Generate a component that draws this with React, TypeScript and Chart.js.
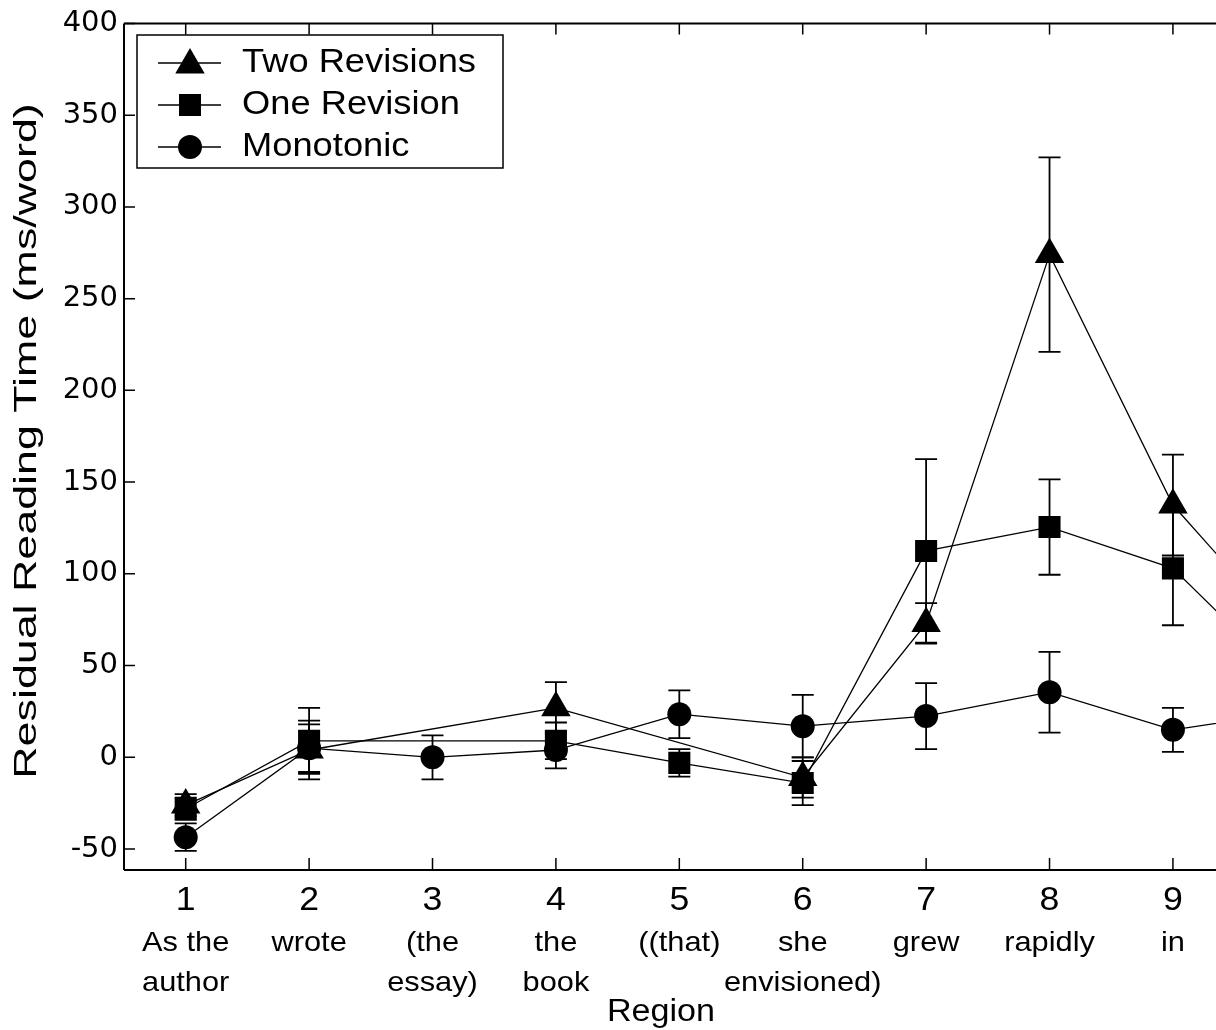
import React, { useEffect, useRef } from 'react';
import { Chart, registerables } from 'chart.js';

Chart.register(...registerables);

// ---------- data ----------
const xTickValues = [1, 2, 3, 4, 5, 6, 7, 8, 9];
const xNumberLabels = ['1', '2', '3', '4', '5', '6', '7', '8', '9'];
const xWordLabels = [
  ['As the', 'author'],
  ['wrote'],
  ['(the', 'essay)'],
  ['the', 'book'],
  ['((that)'],
  ['she', 'envisioned)'],
  ['grew'],
  ['rapidly'],
  ['in'],
];
const yTickValues = [-50, 0, 50, 100, 150, 200, 250, 300, 350, 400];

const twoRevX = [1, 2, 4, 6, 7, 8, 9, 10];
const twoRevY = [-26, 4, 27, -11, 73, 274, 137.5, 62];
const twoRevErr = [6, 16, 14, 11, 11, 53, 27.5, 20];

const oneRevX = [1, 2, 4, 5, 6, 7, 8, 9, 10];
const oneRevY = [-28, 9, 9, -3, -14, 112.5, 125.5, 103, 37];
const oneRevErr = [6, 18, 10, 7.5, 12, 50, 26, 31, 20];

const monoX = [1, 2, 3, 4, 5, 6, 7, 8, 9, 10];
const monoY = [-43.5, 5, 0, 4, 23.5, 17, 22.5, 35.5, 15, 25];
const monoErr = [7.5, 13, 12, 10, 13, 17, 18, 22, 12, 10];

const seriesNames = ['Two Revisions', 'One Revision', 'Monotonic'];
const xAxisTitle = 'Region';
const yAxisTitle = 'Residual Reading Time (ms/word)';

const errorSets = [twoRevErr, oneRevErr, monoErr];

function pts(xs: number[], ys: number[]) {
  return xs.map((x, i) => ({ x, y: ys[i] }));
}

function stretchText(
  ctx: CanvasRenderingContext2D,
  text: string,
  x: number,
  y: number,
  font: string,
  sx: number,
  align: CanvasTextAlign
) {
  ctx.save();
  ctx.translate(x, y);
  ctx.scale(sx, 1);
  ctx.font = font;
  ctx.fillStyle = '#000';
  ctx.textAlign = align;
  ctx.textBaseline = 'middle';
  ctx.fillText(text, 0, 0);
  ctx.restore();
}

function drawMarker(ctx: CanvasRenderingContext2D, style: string, x: number, y: number) {
  ctx.save();
  ctx.fillStyle = '#000';
  ctx.beginPath();
  if (style === 'triangle') {
    const r = 17;
    for (let k = 0; k < 3; k++) {
      const a = (k * 2 * Math.PI) / 3;
      const px = x + Math.sin(a) * r;
      const py = y - Math.cos(a) * r;
      if (k === 0) ctx.moveTo(px, py);
      else ctx.lineTo(px, py);
    }
    ctx.closePath();
  } else if (style === 'rect') {
    ctx.rect(x - 11, y - 11, 22, 22);
  } else {
    ctx.arc(x, y, 12, 0, Math.PI * 2);
  }
  ctx.fill();
  ctx.restore();
}

const errorBarPlugin = {
  id: 'errorBars',
  beforeDatasetsDraw(chart: any) {
    const ctx = chart.ctx as CanvasRenderingContext2D;
    const xs = chart.scales.x;
    const ys = chart.scales.y;
    const area = chart.chartArea;
    ctx.save();
    ctx.beginPath();
    ctx.rect(area.left, area.top, area.right - area.left, area.bottom - area.top);
    ctx.clip();
    ctx.strokeStyle = '#000';
    ctx.lineWidth = 1.8;
    chart.data.datasets.forEach((ds: any, di: number) => {
      const errs = errorSets[di];
      ds.data.forEach((p: any, i: number) => {
        const px = xs.getPixelForValue(p.x);
        const top = ys.getPixelForValue(p.y + errs[i]);
        const bot = ys.getPixelForValue(p.y - errs[i]);
        ctx.beginPath();
        ctx.moveTo(px, top);
        ctx.lineTo(px, bot);
        ctx.moveTo(px - 11, top);
        ctx.lineTo(px + 11, top);
        ctx.moveTo(px - 11, bot);
        ctx.lineTo(px + 11, bot);
        ctx.stroke();
      });
    });
    ctx.restore();
  },
};

const frameAndLabelsPlugin = {
  id: 'frameAndLabels',
  afterDraw(chart: any) {
    const ctx = chart.ctx as CanvasRenderingContext2D;
    const xs = chart.scales.x;
    const ys = chart.scales.y;
    const a = chart.chartArea;
    ctx.save();
    ctx.strokeStyle = '#000';
    ctx.lineWidth = 2;
    // frame (left, top, bottom)
    ctx.beginPath();
    ctx.moveTo(a.left, a.top);
    ctx.lineTo(a.left, a.bottom);
    ctx.moveTo(a.left, a.top);
    ctx.lineTo(a.right, a.top);
    ctx.moveTo(a.left, a.bottom);
    ctx.lineTo(a.right, a.bottom);
    ctx.stroke();
    // inward ticks
    ctx.lineWidth = 1.5;
    ctx.beginPath();
    yTickValues.forEach((v) => {
      const py = ys.getPixelForValue(v);
      ctx.moveTo(a.left, py);
      ctx.lineTo(a.left + 11, py);
    });
    xTickValues.forEach((v) => {
      const px = xs.getPixelForValue(v);
      ctx.moveTo(px, a.bottom);
      ctx.lineTo(px, a.bottom - 12);
      ctx.moveTo(px, a.top);
      ctx.lineTo(px, a.top + 11);
    });
    ctx.stroke();
    ctx.restore();

    // x tick labels
    xTickValues.forEach((v, i) => {
      const px = xs.getPixelForValue(v);
      stretchText(ctx, xNumberLabels[i], px, a.bottom + 31, '33px "Liberation Sans"', 1.08, 'center');
      xWordLabels[i].forEach((w, j) => {
        stretchText(ctx, w, px, a.bottom + 73 + j * 40, '28px "Liberation Sans"', 1.1, 'center');
      });
    });
    // x title
    stretchText(ctx, xAxisTitle, 661, a.bottom + 142, '31px "Liberation Sans"', 1.1, 'center');
    // y title (rotated)
    ctx.save();
    ctx.translate(27, 441);
    ctx.rotate(-Math.PI / 2);
    stretchText(ctx, yAxisTitle, 0, 0, '31px "Liberation Sans"', 1.445, 'center');
    ctx.restore();

    // legend
    const lx = 137, ly = 35, lw = 366, lh = 133;
    ctx.save();
    ctx.fillStyle = '#fff';
    ctx.fillRect(lx, ly, lw, lh);
    ctx.strokeStyle = '#000';
    ctx.lineWidth = 1.5;
    ctx.strokeRect(lx, ly, lw, lh);
    const styles = ['triangle', 'rect', 'circle'];
    seriesNames.forEach((name, i) => {
      const ry = 63 + i * 42;
      ctx.beginPath();
      ctx.lineWidth = 1.3;
      ctx.moveTo(158, ry);
      ctx.lineTo(221, ry);
      ctx.stroke();
      drawMarker(ctx, styles[i], 190, styles[i] === 'triangle' ? ry + 2 : ry);
      stretchText(ctx, name, 242, ry, '33px "Liberation Sans"', 1.1, 'left');
    });
    ctx.restore();
  },
};

export default function App() {
  const canvasRef = useRef<HTMLCanvasElement | null>(null);

  useEffect(() => {
    const canvas = canvasRef.current;
    if (!canvas) return;
    const common = {
      borderColor: '#000',
      borderWidth: 1.3,
      backgroundColor: '#000',
      pointBackgroundColor: '#000',
      pointBorderColor: '#000',
      pointBorderWidth: 0,
      showLine: true,
      tension: 0,
      fill: false,
    };
    const chart = new Chart(canvas, {
      type: 'line',
      data: {
        datasets: [
          { ...common, label: seriesNames[0], data: pts(twoRevX, twoRevY), pointStyle: 'triangle', pointRadius: 17 },
          { ...common, label: seriesNames[1], data: pts(oneRevX, oneRevY), pointStyle: 'rect', pointRadius: 15.6 },
          { ...common, label: seriesNames[2], data: pts(monoX, monoY), pointStyle: 'circle', pointRadius: 12 },
        ],
      },
      options: {
        animation: false,
        responsive: false,
        devicePixelRatio: 1,
        layout: { autoPadding: false, padding: { left: 0, right: 0, top: 21, bottom: 160 } },
        plugins: { legend: { display: false }, tooltip: { enabled: false } },
        scales: {
          x: { type: 'linear', min: 0.5, max: 9.349, display: false },
          y: {
            type: 'linear',
            min: -61.4,
            max: 400,
            afterBuildTicks: (s: any) => {
              s.ticks = yTickValues.map((v) => ({ value: v }));
            },
            afterFit: (s: any) => {
              s.width = 124;
            },
            grid: { display: false, drawTicks: false },
            border: { display: false },
            ticks: {
              color: '#000',
              padding: 6,
              font: { family: 'DejaVu Sans', size: 29 },
            },
          },
        },
      } as any,
      plugins: [errorBarPlugin, frameAndLabelsPlugin],
    });
    return () => chart.destroy();
  }, []);

  return (
    <div style={{ position: 'fixed', left: 0, top: 0, width: 1216, height: 1030, background: '#fff' }}>
      <canvas ref={canvasRef} width={1216} height={1030} />
    </div>
  );
}
